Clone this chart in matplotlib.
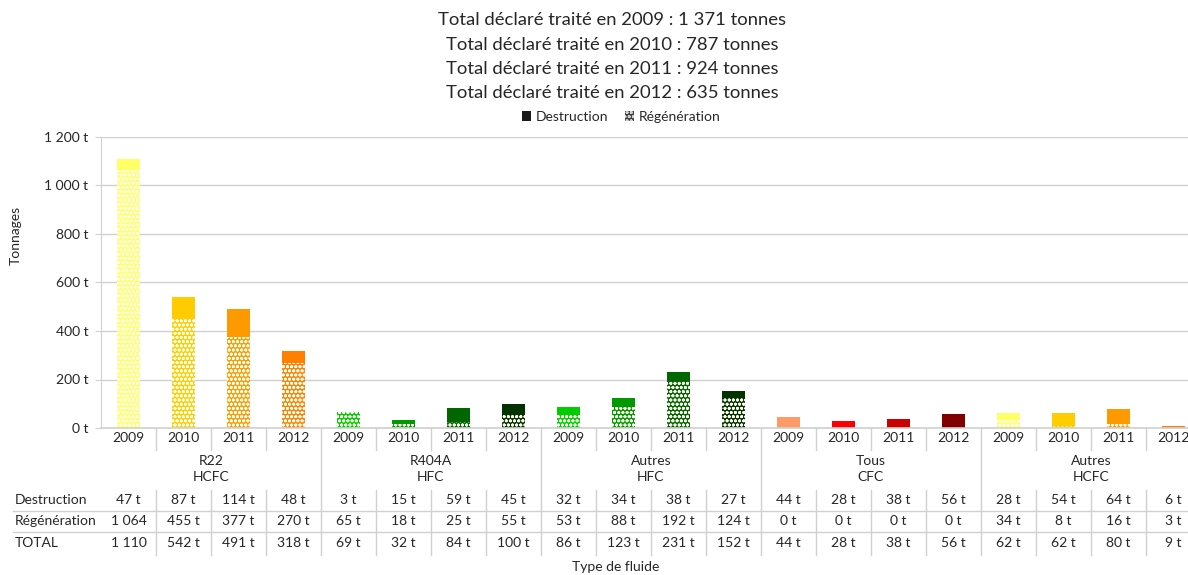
import numpy as np
import matplotlib
matplotlib.use('Agg')
import matplotlib.pyplot as plt
from matplotlib.patches import Patch
from matplotlib.transforms import blended_transform_factory

plt.rcParams['font.family'] = ['Lato', 'DejaVu Sans']
plt.rcParams['hatch.linewidth'] = 0.9

# Data
years = ['2009', '2010', '2011', '2012']
groups = ['R22\nHCFC', 'R404A\nHFC', 'Autres\nHFC', 'Tous\nCFC', 'Autres\nHCFC']
destruction = [47, 87, 114, 48, 3, 15, 59, 45, 32, 34, 38, 27, 44, 28, 38, 56, 28, 54, 64, 6]
regeneration = [1064, 455, 377, 270, 65, 18, 25, 55, 53, 88, 192, 124, 0, 0, 0, 0, 34, 8, 16, 3]
destruction_lbl = ['47 t', '87 t', '114 t', '48 t', '3 t', '15 t', '59 t', '45 t', '32 t', '34 t',
                   '38 t', '27 t', '44 t', '28 t', '38 t', '56 t', '28 t', '54 t', '64 t', '6 t']
regeneration_lbl = ['1 064', '455 t', '377 t', '270 t', '65 t', '18 t', '25 t', '55 t', '53 t', '88 t',
                    '192 t', '124 t', '0 t', '0 t', '0 t', '0 t', '34 t', '8 t', '16 t', '3 t']
total_lbl = ['1 110', '542 t', '491 t', '318 t', '69 t', '32 t', '84 t', '100 t', '86 t', '123 t',
             '231 t', '152 t', '44 t', '28 t', '38 t', '56 t', '62 t', '62 t', '80 t', '9 t']
totals_title = [('2009', '1 371'), ('2010', '787'), ('2011', '924'), ('2012', '635')]

colors = ['#FFFF66', '#FFCC00', '#FF9900', '#FF8000',
          '#00CC00', '#009900', '#006600', '#003300',
          '#00CC00', '#009900', '#006600', '#003300',
          '#FF9966', '#FF0000', '#CC0000', '#800000',
          '#FFFF66', '#FFCC00', '#FF9900', '#FF8000']

W, H = 1188, 575
fig = plt.figure(figsize=(W / 100, H / 100), dpi=100)
ax = fig.add_axes([101 / W, (H - 428) / H, 1100 / W, (428 - 137) / H])

x = np.arange(len(destruction))
txt = '#262626'
grid = '#D0D0D0'

ax.bar(x, regeneration, width=0.42, color=colors, edgecolor='#FFFFF0', linewidth=0, hatch='oooo')
ax.bar(x, destruction, bottom=regeneration, width=0.42, color=colors, linewidth=0)

ax.set_xlim(-0.5, len(x) - 0.5)
ax.set_ylim(0, 1200)
ax.set_yticks(np.arange(0, 1201, 200))
ax.set_yticklabels([f'{v:,}'.replace(',', ' ') + ' t' for v in range(0, 1201, 200)],
                   fontsize=10, color=txt)
ax.yaxis.grid(True, color=grid, linewidth=1)
ax.set_axisbelow(True)
ax.tick_params(axis='y', length=4, color=grid, pad=5)
ax.set_xticks([])
for s in ['top', 'right']:
    ax.spines[s].set_visible(False)
ax.spines['left'].set_color(grid)
ax.spines['bottom'].set_color(grid)
ax.spines['bottom'].set_linewidth(1.2)

def fy(py):
    return 1 - py / H

tr = blended_transform_factory(ax.transData, fig.transFigure)

# Data table below the axis
for i in range(len(x)):
    ax.text(i, fy(438), years[i % 4], transform=tr, ha='center', va='center', fontsize=10, color=txt)
    ax.text(i, fy(500), destruction_lbl[i], transform=tr, ha='center', va='center', fontsize=10, color=txt)
    ax.text(i, fy(521), regeneration_lbl[i], transform=tr, ha='center', va='center', fontsize=10, color=txt)
    ax.text(i, fy(543), total_lbl[i], transform=tr, ha='center', va='center', fontsize=10, color=txt)

for g, name in enumerate(groups):
    ax.text(g * 4 + 1.5, fy(469), name, transform=tr, ha='center', va='center', fontsize=10,
            color=txt, linespacing=1.45)

for b in np.arange(0.5, len(x) - 0.5):
    if (b + 0.5) % 4 == 0:
        ax.plot([b, b], [fy(428), fy(555)], transform=tr, color=grid, lw=1, clip_on=False)
    else:
        ax.plot([b, b], [fy(428), fy(450)], transform=tr, color=grid, lw=1, clip_on=False)
        ax.plot([b, b], [fy(490), fy(555)], transform=tr, color=grid, lw=1, clip_on=False)

for py in [511, 532]:
    fig.add_artist(plt.Line2D([13 / W, 1], [fy(py), fy(py)], color=grid, lw=1))

for py, lbl in [(500, 'Destruction'), (521, 'Régénération'), (543, 'TOTAL')]:
    fig.text(15 / W, fy(py), lbl, ha='left', va='center', fontsize=10, color=txt)

fig.text(616 / W, fy(567), 'Type de fluide', ha='center', va='center', fontsize=10, color=txt)
fig.text(16 / W, fy(235), 'Tonnages', rotation=90, ha='center', va='center', fontsize=10, color=txt)

# Title
for k, (yr, tot) in enumerate(totals_title):
    fig.text(612 / W, fy(20 + k * 24.5), f'Total déclaré traité en {yr} : {tot} tonnes',
             ha='center', va='center', fontsize=13.3, color=txt)

handles = [Patch(facecolor='#1a1a1a', linewidth=0, label='Destruction'),
           Patch(facecolor='#404040', edgecolor='#d0d0d0', linewidth=0, hatch='oooo', label='Régénération')]
fig.legend(handles=handles, loc='center', bbox_to_anchor=(621 / W, fy(117)), ncol=2, frameon=False,
           fontsize=10, handlelength=0.7, handleheight=0.7, handletextpad=0.3, columnspacing=1.2,
           labelcolor=txt)

fig.savefig('out.png', dpi=100)
